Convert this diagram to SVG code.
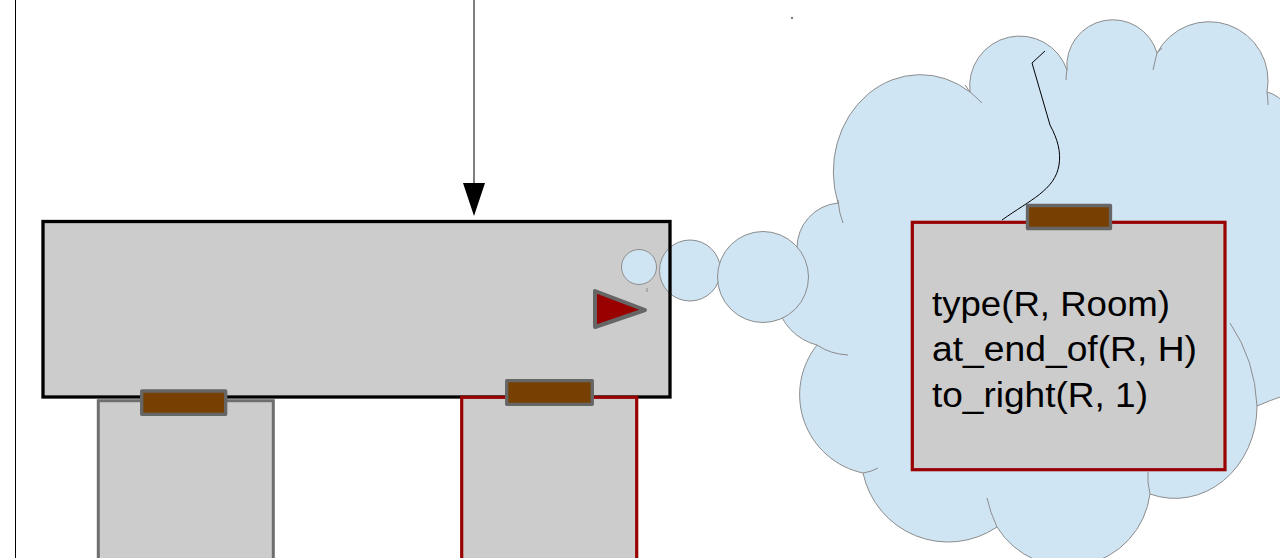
<svg xmlns="http://www.w3.org/2000/svg" width="1280" height="558" viewBox="0 0 1280 558">
<style>
.room{fill:#cccccc}
.red{stroke:#990000;stroke-width:3.2}
.grayb{stroke:#6e6e6e;stroke-width:3}
.door{fill:#784000;stroke:#666666;stroke-width:3.3;stroke-linejoin:round}
.bub{fill:#cfe5f3;stroke:#8c8c8c;stroke-width:1}
.inner{fill:none;stroke:#8c8c8c;stroke-width:1}
.txt{font-family:"Liberation Sans",Arial,sans-serif;font-size:35px;fill:#000}
.ln{stroke:#000;stroke-width:1;fill:none}
</style>
<rect width="1280" height="558" fill="#ffffff"/>

<g id="cloud">
<path class="bub" d="M838,203 A87 97 0 0 1 970,92 A50 50 0 0 1 1067,70 A46 46 0 0 1 1157,53 A59 59 0 0 1 1267,92 A40 60 0 0 1 1300,140 L1300,392 Q1285,394 1257,406 A82 92 0 0 1 1150,494 A83 83 0 0 1 997,527 A87 87 0 0 1 863,473 A80 80 0 0 1 817,345 A55 55 0 0 1 797,248 A45 45 0 0 1 838,203 Z"/>
<path class="inner" d="M838,200 Q839,213 843,223"/>
<path class="inner" d="M970,92 Q976,97 982,103"/>
<path class="inner" d="M965,85 L970,92"/>
<path class="inner" d="M1067,70 Q1066,75 1066,80"/>
<path class="inner" d="M1157,53 L1162,48"/>
<path class="inner" d="M1153,70 Q1155,61 1157,53"/>
<path class="inner" d="M1267,92 Q1268,98 1268,105"/>
<path class="inner" d="M1230,323 Q1255,360 1257,406"/>
<path class="inner" d="M1150,494 Q1147,482 1148,472"/>
<path class="inner" d="M997,527 Q990,512 987,498"/>
<path class="inner" d="M863,473 Q871,472 878,468"/>
<path class="inner" d="M817,345 Q830,354 848,355"/>
</g>

<g id="main-room">
<rect class="room" x="43" y="221.5" width="627" height="175.5"/>
</g>

<g id="thought-bubbles">
<circle class="bub" cx="639" cy="267" r="17.5"/>
<circle class="bub" cx="690" cy="270.5" r="30.5"/>
<circle class="bub" cx="763" cy="277" r="45.5"/>
</g>

<g id="main-room-outline">
<rect x="43" y="221.5" width="627" height="175.5" fill="none" stroke="#000" stroke-width="3.3"/>
<line x1="647" y1="288" x2="647" y2="292" stroke="#888" stroke-width="1"/>
</g>

<g id="direction-marker">
<polygon points="595,291 595,327 645,310" fill="#990000" stroke="#666666" stroke-width="4" stroke-linejoin="round"/>
</g>

<g id="room-left">
<rect class="room grayb" x="98.3" y="400.7" width="175" height="170"/>
<rect class="door" x="141.7" y="391" width="84" height="23.3"/>
</g>

<g id="room-right">
<rect class="room red" x="461.7" y="397.3" width="175" height="170"/>
<rect class="door" x="506.7" y="380.7" width="85.6" height="23.6"/>
</g>

<g id="room-cloud">
<rect class="room red" x="912.3" y="222.3" width="312.7" height="247.4"/>
<rect class="door" x="1027.5" y="205.5" width="83" height="23"/>
<text class="txt" x="932" y="316" textLength="238" lengthAdjust="spacingAndGlyphs">type(R, Room)</text>
<text class="txt" x="932" y="361" textLength="265" lengthAdjust="spacingAndGlyphs">at_end_of(R, H)</text>
<text class="txt" x="932" y="407" textLength="216" lengthAdjust="spacingAndGlyphs">to_right(R, 1)</text>
</g>

<g id="connectors">
<line class="ln" x1="15.5" y1="0" x2="15.5" y2="558"/>
<line class="ln" x1="474" y1="0" x2="474" y2="184"/>
<polygon points="463,183 485,183 474,216" fill="#000"/>
<path class="ln" d="M1045,51 L1032,63 L1050,125 C1058,140 1061,152 1059,165 C1055,190 1030,200 1002,220"/>
<rect x="791" y="17" width="2" height="2" fill="#777"/>
</g>
</svg>
